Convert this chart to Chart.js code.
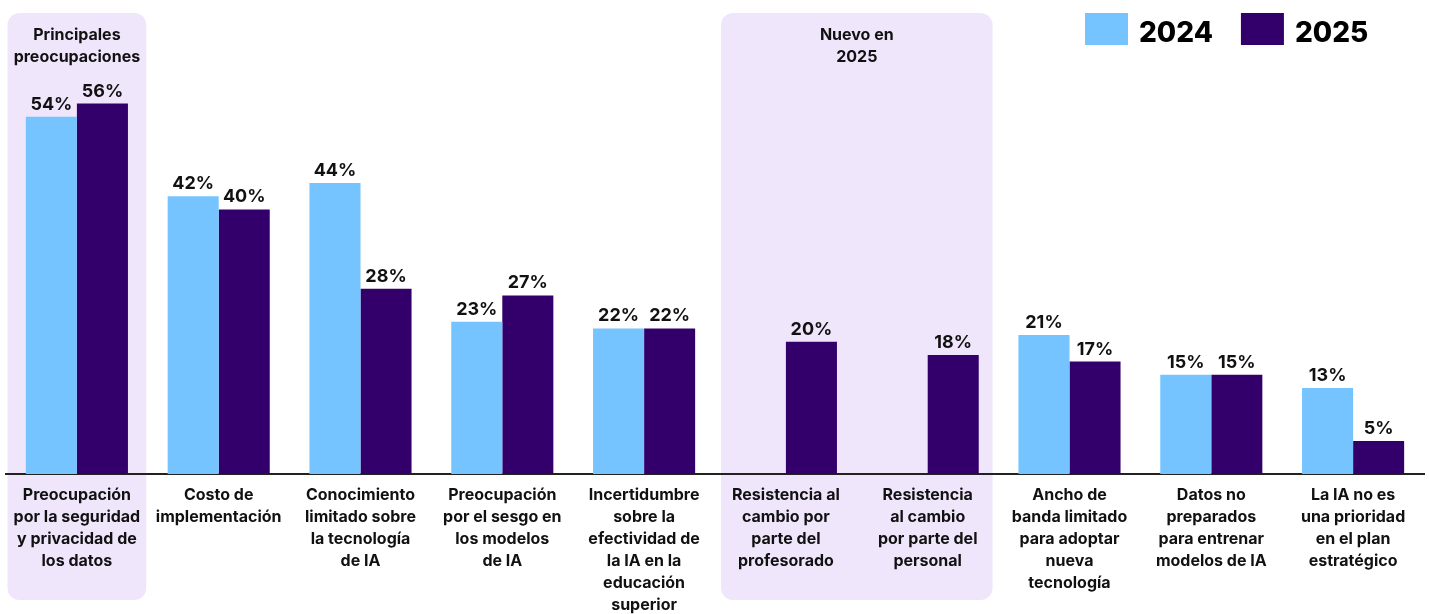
<!DOCTYPE html>
<html>
<head>
<meta charset="utf-8">
<script src="https://cdn.jsdelivr.net/npm/chart.js@4"></script>
<style>
  html, body { margin: 0; background: #fff; }
  #wrap { width: 1429px; height: 614px; position: relative; }
</style>
</head>
<body>
<div id="wrap"><canvas id="barChart"></canvas></div>
<script>
const labels = [
  ['Preocupación', 'por la seguridad', 'y privacidad de', 'los datos'],
  ['Costo de', 'implementación'],
  ['Conocimiento', 'limitado sobre', 'la tecnología', 'de IA'],
  ['Preocupación', 'por el sesgo en', 'los modelos', 'de IA'],
  ['Incertidumbre', 'sobre la', 'efectividad de', 'la IA en la', 'educación', 'superior'],
  ['Resistencia al', 'cambio por', 'parte del', 'profesorado'],
  ['Resistencia', 'al cambio', 'por parte del', 'personal'],
  ['Ancho de', 'banda limitado', 'para adoptar', 'nueva', 'tecnología'],
  ['Datos no', 'preparados', 'para entrenar', 'modelos de IA'],
  ['La IA no es', 'una prioridad', 'en el plan', 'estratégico']
]

const values2024 = [54, 42, 44, 23, 22, null, null, 21, 15, 13]
const values2025 = [56, 40, 28, 27, 22, 20, 18, 17, 15, 5]
const seriesNames = ['2024', '2025']
const colors = ['#75c4ff', '#33006b']

// shaded groups behind the bars
const highlights = [
  { from: 0, to: 0, inset: 1.5, title: ['Principales', 'preocupaciones'] },
  { from: 5, to: 6, inset: 6, title: ['Nuevo en', '2025'] }
]

const FONT = 'Inter'

const highlightPlugin = {
  id: 'highlights',
  beforeDraw(chart) {
    const { ctx, scales: { x } } = chart
    const step = x.getPixelForValue(1) - x.getPixelForValue(0)
    ctx.save()
    highlights.forEach(h => {
      const left = x.getPixelForValue(h.from) - step / 2 + h.inset
      const right = x.getPixelForValue(h.to) + step / 2 - h.inset
      ctx.fillStyle = '#f0e6fc'
      ctx.beginPath()
      ctx.roundRect(left, 13, right - left, 587, 12)
      ctx.fill()
      ctx.fillStyle = '#111'
      ctx.font = `bold 16px ${FONT}`
      ctx.textAlign = 'center'
      ctx.textBaseline = 'middle'
      h.title.forEach((line, i) => ctx.fillText(line, (left + right) / 2, 35 + i * 22))
    })
    ctx.restore()
  }
}

const valueLabels = {
  id: 'valueLabels',
  afterDatasetsDraw(chart) {
    const { ctx } = chart
    ctx.save()
    ctx.font = `bold 18px ${FONT}`
    ctx.fillStyle = '#111'
    ctx.textAlign = 'center'
    ctx.textBaseline = 'alphabetic'
    chart.data.datasets.forEach((ds, di) => {
      chart.getDatasetMeta(di).data.forEach((bar, i) => {
        if (ds.data[i] == null) return
        ctx.fillText(ds.data[i] + '%', bar.x, bar.y - 7)
      })
    })
    ctx.restore()
  }
}

// legend top right: big swatches + year
const yearLegend = {
  id: 'yearLegend',
  afterDraw(chart) {
    const { ctx } = chart
    ctx.save()
    ctx.font = `800 28px ${FONT}`
    ctx.textBaseline = 'alphabetic'
    ctx.textAlign = 'left'
    let x = 1085
    chart.data.datasets.forEach(ds => {
      ctx.fillStyle = ds.backgroundColor
      ctx.fillRect(x, 13, 43, 32)
      ctx.fillStyle = '#000'
      ctx.fillText(ds.label, x + 54, 42)
      x += 54 + ctx.measureText(ds.label).width + 28
    })
    ctx.restore()
  }
}

const ctx = document.getElementById('barChart').getContext('2d')

const myChart = new Chart(ctx, {
  type: 'bar',
  data: {
    labels,
    datasets: [
      { label: seriesNames[0], data: values2024, backgroundColor: colors[0] },
      { label: seriesNames[1], data: values2025, backgroundColor: colors[1] }
    ]
  },
  options: {
    responsive: true,
    maintainAspectRatio: false,
    animation: false,
    categoryPercentage: 0.72,
    barPercentage: 1,
    layout: { padding: { top: 11, left: 6, right: 5, bottom: -12 } },
    plugins: {
      legend: { display: false },
      tooltip: { enabled: false }
    },
    scales: {
      x: {
        grid: { display: false, drawTicks: false },
        border: { display: true, color: '#222', width: 2 },
        ticks: {
          color: '#111',
          font: { family: FONT, size: 16, weight: 'bold', lineHeight: '22px' },
          padding: 10,
          autoSkip: false,
          maxRotation: 0
        }
      },
      y: { display: false, min: 0, max: 70 }
    }
  },
  plugins: [highlightPlugin, valueLabels, yearLegend]
})
</script>
</body>
</html>
